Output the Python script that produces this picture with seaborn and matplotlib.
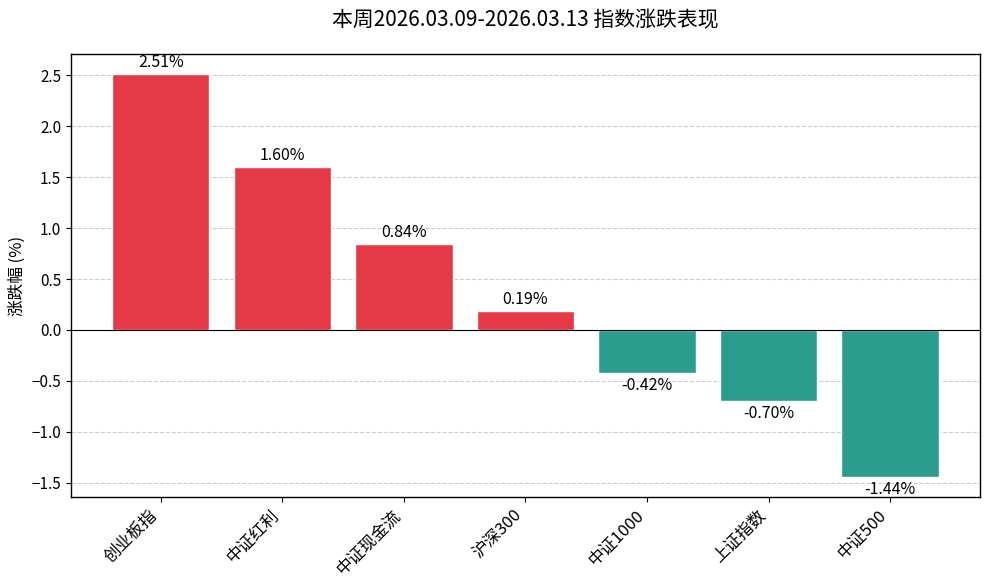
import matplotlib
matplotlib.use("Agg")
import matplotlib.pyplot as plt
import seaborn as sns
import pandas as pd

categories = ["创业板指", "中证红利", "中证现金流", "沪深300", "中证1000", "上证指数", "中证500"]
values = [2.51, 1.60, 0.84, 0.19, -0.42, -0.70, -1.44]
title = "本周2026.03.09-2026.03.13 指数涨跌表现"
ylabel = "涨跌幅 (%)"

sns.set_style("ticks")
plt.rcParams['font.family'] = ['Noto Sans CJK SC', 'DejaVu Sans']
plt.rcParams['axes.unicode_minus'] = True
for k in ["text.color", "axes.labelcolor", "xtick.color", "ytick.color", "axes.edgecolor"]:
    plt.rcParams[k] = "black"

up_color = "#E63946"
down_color = "#2A9D8F"
colors = [up_color if v >= 0 else down_color for v in values]

df = pd.DataFrame({"name": categories, "chg": values})

fig, ax = plt.subplots(figsize=(9.84, 5.88), dpi=100)
fig.subplots_adjust(left=0.072, right=0.996, top=0.908, bottom=0.155)

sns.barplot(data=df, x="name", y="chg", hue="name", palette=colors, legend=False,
            width=0.8, saturation=1, ax=ax, zorder=3)

ax.axhline(0, color="black", linewidth=0.8, zorder=4)
ax.yaxis.grid(True, linestyle="--", color="#cccccc", linewidth=0.8, zorder=0)
ax.set_axisbelow(True)

for i, v in enumerate(values):
    if v >= 0:
        ax.text(i, v + 0.03, f"{v:.2f}%", ha="center", va="bottom", fontsize=11.5)
    else:
        ax.text(i, v - 0.04, f"{v:.2f}%", ha="center", va="top", fontsize=11.5)

ax.set_xlim(-0.74, 6.74)
ax.set_ylim(-1.6375, 2.7075)
ax.set_xlabel("")
ax.set_ylabel(ylabel, fontsize=12)
ax.set_title(title, fontsize=15, fontweight="medium", pad=20)
ax.tick_params(axis="y", labelsize=11)
plt.setp(ax.get_xticklabels(), rotation=45, ha="right", fontsize=12)
for s in ax.spines.values():
    s.set_visible(True)
    s.set_linewidth(1.0)
    s.set_color("black")

fig.savefig("out.png", dpi=100)
